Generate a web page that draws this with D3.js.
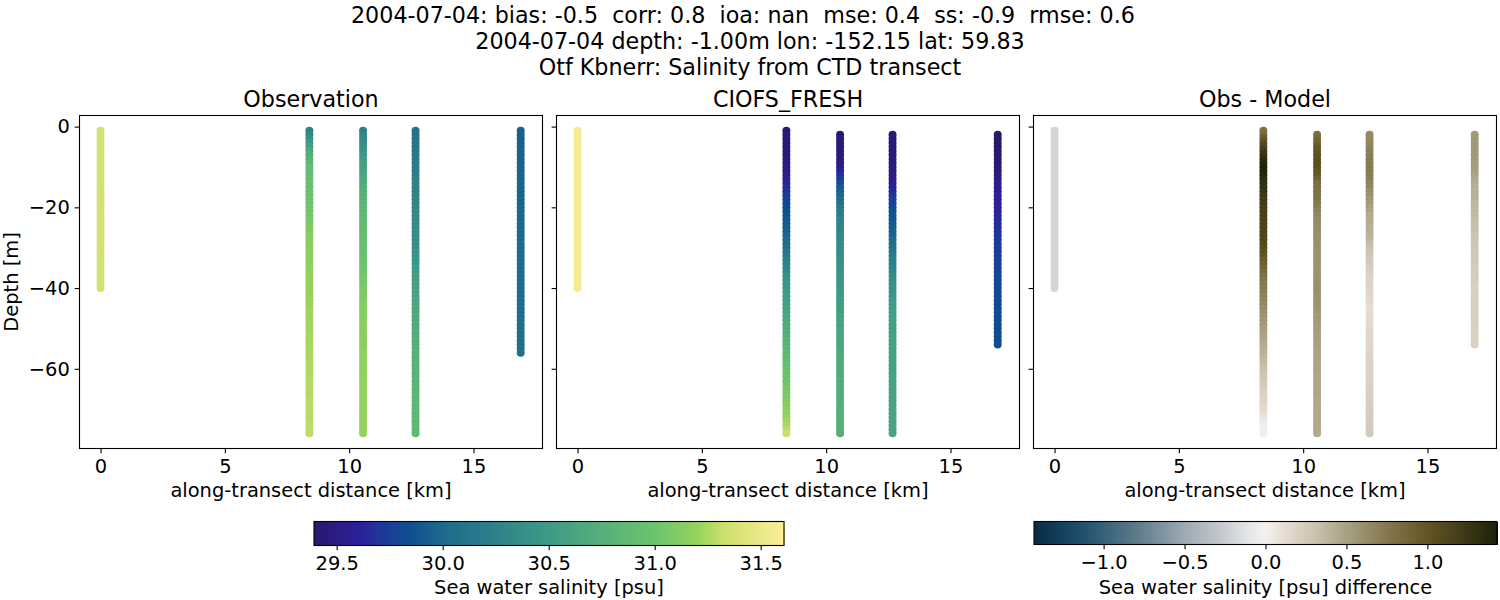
<!DOCTYPE html>
<html>
<head>
<meta charset="utf-8">
<script src="https://cdn.jsdelivr.net/npm/d3@7"></script>
<style>
  body { margin: 0; background: #fff; }
  text { font-family: "DejaVu Sans", sans-serif; fill: #000; white-space: pre; }
</style>
</head>
<body>
<svg id="chart"></svg>
<script>
const width = 1500;
const height = 600;

// first line keeps its trailing spaces, they push it left of the other two
const titleLines = [
  "2004-07-04: bias: -0.5  corr: 0.8  ioa: nan  mse: 0.4  ss: -0.9  rmse: 0.6  ",
  "2004-07-04 depth: -1.00m lon: -152.15 lat: 59.83",
  "Otf Kbnerr: Salinity from CTD transect"
];
const panelTitles = ["Observation", "CIOFS_FRESH", "Obs - Model"];
const xTicks = [0, 5, 10, 15];
const yTicks = [0, -20, -40, -60];
const salinityTicks = [29.5, 30.0, 30.5, 31.0, 31.5];
const diffTicks = [-1.0, -0.5, 0.0, 0.5, 1.0];

// along-transect distance of each CTD cast [km]
const stationDist = [0, 8.40, 10.56, 12.67, 16.90];
// shallowest depth of each cast [m], profiles step 1 m down from there
const obsStart = [1, 1, 1, 1, 1];
const modelStart = [1, 1, 2, 2, 2];

const obs0 = [31.36,31.36,31.36,31.36,31.36,31.36,31.36,31.36,31.36,31.36,31.36,31.36,31.36,31.36,31.36,31.36,31.36,31.36,31.36,31.36,31.36,31.36,31.36,31.36,31.36,31.36,31.36,31.36,31.36,31.36,31.36,31.36,31.36,31.36,31.36,31.36,31.36,31.36,31.36,31.36];
const obs1 = [30.25,30.30,30.40,30.48,30.56,30.65,30.72,30.78,30.85,30.90,
  30.91,30.92,30.93,30.94,30.95,30.96,30.97,30.98,31.00,31.01,
  31.03,31.04,31.06,31.07,31.09,31.10,31.12,31.13,31.14,31.15,
  31.15,31.16,31.16,31.17,31.17,31.18,31.18,31.19,31.19,31.20,
  31.20,31.20,31.21,31.21,31.21,31.22,31.22,31.22,31.23,31.23,
  31.23,31.24,31.24,31.24,31.25,31.25,31.25,31.25,31.26,31.26,
  31.26,31.26,31.27,31.27,31.27,31.27,31.27,31.28,31.28,31.28,
  31.28,31.28,31.28,31.29,31.29,31.29];
const obs2 = [30.22,30.26,30.30,30.34,30.40,30.44,30.47,30.51,30.55,30.58,
  30.60,30.63,30.66,30.69,30.72,30.75,30.77,30.80,30.82,30.85,
  30.86,30.87,30.88,30.89,30.90,30.91,30.92,30.93,30.94,30.95,
  30.96,30.97,30.98,30.99,31.00,31.02,31.03,31.05,31.06,31.08,
  31.09,31.09,31.10,31.11,31.12,31.12,31.13,31.14,31.14,31.15,
  31.15,31.15,31.16,31.16,31.16,31.17,31.17,31.17,31.17,31.18,
  31.18,31.18,31.18,31.18,31.19,31.19,31.19,31.19,31.19,31.19,
  31.20,31.20,31.20,31.20,31.20,31.20];
const obs3 = [30.08,30.09,30.10,30.11,30.12,30.14,30.15,30.17,30.18,30.20,
  30.21,30.22,30.23,30.24,30.25,30.26,30.27,30.28,30.29,30.30,
  30.31,30.32,30.33,30.34,30.35,30.36,30.37,30.38,30.39,30.40,
  30.42,30.44,30.46,30.48,30.50,30.52,30.54,30.56,30.58,30.60,
  30.61,30.62,30.63,30.64,30.65,30.67,30.68,30.69,30.70,30.72,
  30.73,30.74,30.75,30.76,30.76,30.77,30.78,30.79,30.79,30.80,
  30.80,30.81,30.81,30.82,30.82,30.83,30.83,30.84,30.84,30.85,
  30.85,30.85,30.86,30.86,30.87,30.87];
const obs4 = [29.95,29.95,29.95,29.95,29.96,29.96,29.96,29.96,29.96,29.96,
  29.97,29.97,29.97,29.97,29.97,29.97,29.98,29.98,29.98,29.98,
  29.99,29.99,29.99,29.99,30.00,30.00,30.00,30.00,30.01,30.01,
  30.01,30.01,30.02,30.02,30.02,30.02,30.02,30.03,30.03,30.03,
  30.03,30.03,30.04,30.04,30.04,30.04,30.04,30.05,30.05,30.05,
  30.05,30.05,30.06,30.06,30.06,30.06];

const model0 = [31.56,31.56,31.56,31.56,31.56,31.56,31.56,31.56,31.56,31.56,31.56,31.56,31.56,31.56,31.56,31.56,31.56,31.56,31.56,31.56,31.56,31.56,31.56,31.56,31.56,31.56,31.56,31.56,31.56,31.56,31.56,31.56,31.56,31.56,31.56,31.56,31.56,31.56,31.56,31.56];
const model1 = [29.45,29.45,29.44,29.44,29.44,29.45,29.45,29.46,29.47,29.48,
  29.50,29.53,29.58,29.62,29.65,29.68,29.72,29.76,29.79,29.82,
  29.84,29.87,29.89,29.91,29.93,29.95,29.97,30.00,30.03,30.07,
  30.11,30.15,30.20,30.24,30.28,30.32,30.37,30.41,30.45,30.47,
  30.49,30.52,30.54,30.56,30.59,30.62,30.64,30.66,30.68,30.71,
  30.73,30.75,30.77,30.80,30.82,30.84,30.86,30.88,30.91,30.94,
  30.96,30.98,31.00,31.02,31.04,31.06,31.08,31.10,31.12,31.15,
  31.17,31.19,31.22,31.25,31.28,31.32];
const model2 = [29.45,29.45,29.45,29.45,29.46,29.46,29.47,29.48,
  29.52,29.60,29.66,29.74,29.85,29.90,29.94,29.98,30.02,30.07,30.12,30.17,30.21,30.25,
  30.26,30.28,30.29,30.31,30.32,30.34,30.35,30.37,
  30.38,30.39,30.41,30.42,30.43,30.44,30.46,30.47,
  30.48,30.49,30.50,30.51,30.52,30.54,30.55,
  30.58,30.59,30.60,30.62,30.62,30.64,30.65,30.66,30.67,
  30.68,30.68,30.69,30.69,30.70,30.70,30.71,30.71,30.71,30.72,30.72,30.72,30.73,30.73,30.73,30.74,30.74,30.74,30.74,30.75,30.75];
const model3 = [29.45,29.45,29.45,29.45,29.45,29.46,29.46,29.46,29.47,29.48,
  29.50,29.52,29.56,29.60,29.64,29.68,29.72,
  29.75,29.78,29.83,29.87,29.89,29.91,29.93,29.95,29.97,
  30.00,30.04,30.08,30.12,30.16,30.20,
  30.23,30.26,30.30,30.33,30.37,30.40,
  30.42,30.44,30.46,30.48,30.50,30.53,30.55,
  30.55,30.56,30.56,30.57,30.57,30.58,30.59,30.59,30.60,
  30.60,30.60,30.60,30.60,30.60,30.60,30.61,30.61,30.61,30.61,30.61,30.61,30.61,30.62,30.62,30.62,30.62,30.62,30.62,30.62,30.62];
const model4 = [29.40,29.40,29.40,29.40,29.41,29.41,29.41,29.42,29.43,29.45,29.47,
  29.50,29.53,29.55,29.56,29.57,29.58,29.60,
  29.61,29.62,29.63,29.64,29.66,29.67,29.68,29.70,
  29.71,29.72,29.73,29.74,29.75,29.76,29.77,29.78,
  29.79,29.79,29.80,29.80,29.81,29.81,29.81,29.82,29.82,29.82,29.83,
  29.83,29.83,29.84,29.84,29.84,29.84,29.85,29.85];

// colormap anchor colours
const halineColors = ["#29186b","#2d1f9a","#1c3a9a","#0f4f90","#1d6a8b","#3f9a87","#6cc46d","#95d25c","#cfe06e","#fdee99"];
const halineStops = [29.39,29.6,29.72,29.85,30.0,30.5,31.0,31.2,31.33,31.61];
const diffColors = ["#0a2a45","#1a4d6b","#5a7888","#9daab4","#c6c9ce","#e4e5e6","#f4f1ef","#e6ddd3","#c9c2ae","#a9a182","#857950","#625320","#4a431c","#1c2008"];
const diffStops = [-1.43,-1.16,-0.81,-0.5,-0.27,-0.11,0,0.12,0.31,0.5,0.74,1.01,1.16,1.43];

const obsProfiles = [obs0, obs1, obs2, obs3, obs4];
const modelProfiles = [model0, model1, model2, model3, model4];

const toPoints = (profiles, starts) =>
  profiles.flatMap((p, i) =>
    p.map((v, j) => ({ dist: stationDist[i], depth: -(starts[i] + j), value: v }))
  );

const obsPoints = toPoints(obsProfiles, obsStart);
const modelPoints = toPoints(modelProfiles, modelStart);
// difference only where the model has the same cast and depth
const diffPoints = modelPoints.map((m) => {
  const o = obsPoints.find((d) => d.dist === m.dist && d.depth === m.depth);
  return { dist: m.dist, depth: m.depth, value: o.value - m.value };
});

const salinityColor = d3.scaleLinear().domain(halineStops).range(halineColors).interpolate(d3.interpolateRgb);
const diffColor = d3.scaleLinear().domain(diffStops).range(diffColors).interpolate(d3.interpolateRgb);

const svg = d3.select("#chart").attr("width", width).attr("height", height).style("display", "block");

svg.selectAll(".suptitle")
  .data(titleLines)
  .enter()
  .append("text")
  .attr("class", "suptitle")
  .attr("x", 750)
  .attr("y", (d, i) => 23 + i * 26)
  .attr("text-anchor", "middle")
  .attr("font-size", "22.22px")
  .text((d) => d);

const panels = [
  { left: 79.5, points: obsPoints, color: salinityColor },
  { left: 556.5, points: modelPoints, color: salinityColor },
  { left: 1033.5, points: diffPoints, color: diffColor }
];
const panelW = 463;
const axTop = 115.5;
const axBottom = 448.5;

const y = d3.scaleLinear().domain([-79.75, 2.75]).range([axBottom, axTop]);

panels.forEach((panel, idx) => {
  const x = d3.scaleLinear().domain([-0.8465, 17.7765]).range([panel.left, panel.left + panelW]);
  const g = svg.append("g");

  g.selectAll("circle")
    .data(panel.points)
    .enter()
    .append("circle")
    .attr("cx", (d) => x(d.dist))
    .attr("cy", (d) => y(d.depth))
    .attr("r", 4)
    .attr("fill", (d) => panel.color(d.value));

  // axes
  const xAxis = d3.axisBottom(x).tickValues(xTicks).tickSize(4.86).tickPadding(5.5);
  const xG = g.append("g").attr("transform", `translate(0,${axBottom})`).call(xAxis);
  const yAxis = d3.axisLeft(y).tickValues(yTicks).tickSize(4.86).tickPadding(4.86)
    .tickFormat(idx === 0 ? (d) => d3.format("d")(d).replace("-", "\u2212") : "");
  const yG = g.append("g").attr("transform", `translate(${panel.left},0)`).call(yAxis);
  [xG, yG].forEach((a) => {
    a.select(".domain").remove();
    a.selectAll("line").attr("stroke", "#000").attr("stroke-width", 1.1);
    a.selectAll("text").attr("font-size", "19.44px").attr("fill", "#000").attr("font-family", '"DejaVu Sans"');
  });

  g.append("rect")
    .attr("x", panel.left).attr("y", axTop)
    .attr("width", panelW).attr("height", axBottom - axTop)
    .attr("fill", "none").attr("stroke", "#000").attr("stroke-width", 1.1);

  g.append("text")
    .attr("x", panel.left + panelW / 2).attr("y", 107)
    .attr("text-anchor", "middle").attr("font-size", "22.22px")
    .text(panelTitles[idx]);

  g.append("text")
    .attr("x", panel.left + panelW / 2).attr("y", 497)
    .attr("text-anchor", "middle").attr("font-size", "19.44px")
    .text("along-transect distance [km]");
});

svg.append("text")
  .attr("transform", `translate(18,${(axTop + axBottom) / 2}) rotate(-90)`)
  .attr("text-anchor", "middle").attr("font-size", "19.44px")
  .text("Depth [m]");

// colorbars
function colorbar(x0, x1, y0, y1, domain, color, ticks, label) {
  const s = d3.scaleLinear().domain(domain).range([x0, x1]);
  const g = svg.append("g");
  const levels = d3.range(256).map((i) => domain[0] + ((domain[1] - domain[0]) * (i + 0.5)) / 256);
  const w = (x1 - x0) / 256;
  g.selectAll("rect")
    .data(levels)
    .enter()
    .append("rect")
    .attr("x", (d) => s(d) - w / 2)
    .attr("y", y0)
    .attr("width", w + 1)
    .attr("height", y1 - y0)
    .attr("shape-rendering", "crispEdges")
    .attr("fill", (d) => color(d));
  g.append("rect")
    .attr("x", x0).attr("y", y0).attr("width", x1 - x0).attr("height", y1 - y0)
    .attr("fill", "none").attr("stroke", "#000").attr("stroke-width", 1.1);
  const axis = d3.axisBottom(s).tickValues(ticks).tickSize(4.86).tickPadding(5.5)
    .tickFormat((d) => d3.format(".1f")(d).replace("-", "\u2212"));
  const a = g.append("g").attr("transform", `translate(0,${y1})`).call(axis);
  a.select(".domain").remove();
  a.selectAll("line").attr("stroke", "#000").attr("stroke-width", 1.1);
  a.selectAll("text").attr("font-size", "19.44px").attr("fill", "#000").attr("font-family", '"DejaVu Sans"');
  g.append("text")
    .attr("x", (x0 + x1) / 2).attr("y", 594)
    .attr("text-anchor", "middle").attr("font-size", "19.44px")
    .text(label);
}

colorbar(314, 784, 521.5, 545.5, [29.393, 31.61], salinityColor, salinityTicks, "Sea water salinity [psu]");
colorbar(1034, 1497, 521.5, 544.5, [-1.43, 1.43], diffColor, diffTicks, "Sea water salinity [psu] difference");
</script>
</body>
</html>
